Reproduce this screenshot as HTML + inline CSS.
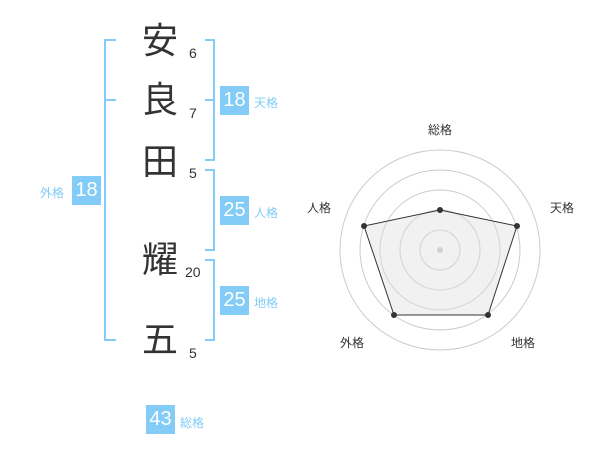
<!DOCTYPE html>
<html><head><meta charset="utf-8"><style>
body{margin:0;width:600px;height:470px;background:#fff;font-family:"Liberation Sans","Noto Sans CJK JP",sans-serif;position:relative;overflow:hidden}
.k{position:absolute;font-size:36px;color:#333;width:40px;text-align:center;line-height:40px}
.n{position:absolute;font-size:14px;color:#333;line-height:16px}
.b{position:absolute;width:29px;height:29px;background:#82ccf7;color:#fff;font-size:20px;line-height:29px;text-align:center}
.l{position:absolute;font-size:12px;color:#82ccf7;line-height:14px}
.r{position:absolute;font-size:12px;color:#333;line-height:14px}
</style></head><body>
<div class="k" style="left:140px;top:21px">安</div>
<div class="k" style="left:140px;top:80px">良</div>
<div class="k" style="left:140px;top:142px">田</div>
<div class="k" style="left:140px;top:240px">耀</div>
<div class="k" style="left:140px;top:320px">五</div>
<div class="n" style="left:189px;top:45px">6</div>
<div class="n" style="left:189px;top:105px">7</div>
<div class="n" style="left:189px;top:165px">5</div>
<div class="n" style="left:185px;top:264px">20</div>
<div class="n" style="left:189px;top:345px">5</div>
<svg width="600" height="470" style="position:absolute;left:0;top:0">
<g stroke="#82ccf7" stroke-width="2" fill="none">
<path d="M116 40H105V340H116M105 100H116"/>
<path d="M205 40H214V160H205M205 100H214"/>
<path d="M205 170H214V250H205"/>
<path d="M205 260H214V340H205"/>
</g>
<g fill="none" stroke="#ccc" stroke-width="1">
<circle cx="440" cy="250" r="100"/><circle cx="440" cy="250" r="80"/><circle cx="440" cy="250" r="60"/><circle cx="440" cy="250" r="40"/><circle cx="440" cy="250" r="20"/>
</g>
<circle cx="440" cy="250" r="3" fill="#ccc"/>
<polygon points="440,210 517,226 488,315 394,315 364,226" fill="rgba(220,220,220,0.4)" stroke="#333" stroke-width="1"/>
<g fill="#333"><circle cx="440" cy="210" r="3"/><circle cx="517" cy="226" r="3"/><circle cx="488" cy="315" r="3"/><circle cx="394" cy="315" r="3"/><circle cx="364" cy="226" r="3"/></g>
</svg>
<div class="b" style="left:220px;top:86px">18</div><div class="l" style="left:254px;top:96px">天格</div>
<div class="b" style="left:220px;top:196px">25</div><div class="l" style="left:254px;top:206px">人格</div>
<div class="b" style="left:220px;top:286px">25</div><div class="l" style="left:254px;top:296px">地格</div>
<div class="b" style="left:72px;top:176px">18</div><div class="l" style="left:40px;top:186px">外格</div>
<div class="b" style="left:146px;top:405px">43</div><div class="l" style="left:180px;top:416px">総格</div>
<div class="r" style="left:428px;top:123px">総格</div>
<div class="r" style="left:550px;top:201px">天格</div>
<div class="r" style="left:307px;top:201px">人格</div>
<div class="r" style="left:340px;top:336px">外格</div>
<div class="r" style="left:511px;top:336px">地格</div>
</body></html>
